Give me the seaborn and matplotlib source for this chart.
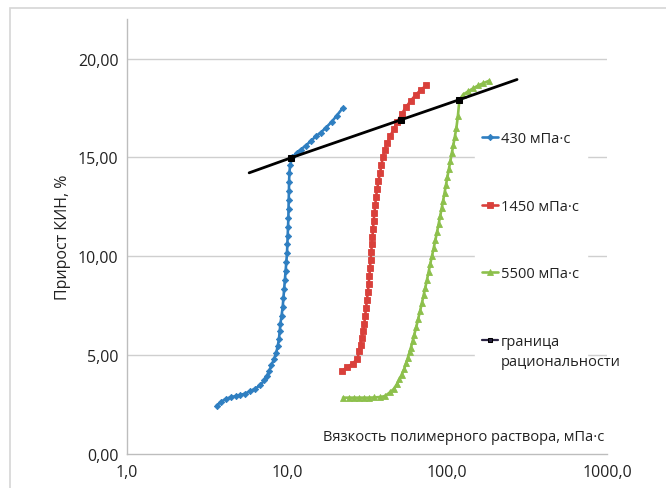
import matplotlib
matplotlib.use("Agg")
import pandas as pd
import seaborn as sns
import matplotlib.pyplot as plt
from matplotlib.patches import Rectangle
from matplotlib.ticker import FixedLocator, FixedFormatter, NullLocator

# series: viscosity (mPa*s), oil recovery gain (%)
visc_430 = [3.63, 3.85, 4.15, 4.45, 4.8, 5.1, 5.45, 5.85, 6.3, 6.8, 7.2, 7.5, 7.75,
            8.0, 8.3, 8.55, 8.75, 8.9, 9.0, 9.1, 9.25, 9.4, 9.5, 9.6, 9.7, 9.8,
            9.9, 10.0, 10.05, 10.1, 10.15, 10.2, 10.22, 10.25, 10.28, 10.3, 10.35,
            10.45, 10.8, 11.5, 12.2, 13.1, 14.1, 15.2, 16.2, 17.5, 19.0, 20.4, 22.3]
gain_430 = [2.45, 2.63, 2.79, 2.87, 2.93, 2.98, 3.05, 3.17, 3.3, 3.47, 3.72, 3.96, 4.2,
            4.5, 4.8, 5.1, 5.45, 5.8, 6.2, 6.6, 7.0, 7.45, 7.9, 8.35, 8.8, 9.25,
            9.7, 10.15, 10.6, 11.05, 11.5, 11.95, 12.4, 12.85, 13.3, 13.75, 14.2,
            14.6, 15.0, 15.24, 15.4, 15.6, 15.83, 16.08, 16.25, 16.5, 16.8, 17.1, 17.5]

visc_1450 = [22.0, 23.7, 25.7, 27.5, 28.3, 28.8, 29.3, 30.0, 30.4, 30.8, 31.2, 31.6,
             32.0, 32.4, 32.7, 33.0, 33.3, 33.6, 33.9, 34.2, 34.5, 34.8, 35.2, 35.6,
             36.0, 36.6, 37.3, 38.1, 38.9, 39.7, 40.9, 42.4, 44.3, 46.6, 49.0, 52.1,
             55.5, 59.4, 63.9, 68.7, 74.3]
gain_1450 = [4.19, 4.39, 4.57, 4.81, 5.19, 5.53, 5.86, 6.2, 6.6, 7.0, 7.4, 7.8,
             8.2, 8.6, 9.0, 9.4, 9.8, 10.2, 10.6, 11.0, 11.4, 11.8, 12.2, 12.6,
             13.0, 13.4, 13.8, 14.2, 14.6, 15.0, 15.4, 15.75, 16.1, 16.45, 16.8, 17.2,
             17.55, 17.87, 18.17, 18.42, 18.64]

visc_5500 = [22.4, 24.4, 26.3, 28.3, 30.4, 32.6, 35.0, 38.2, 41.0, 44.2, 46.6, 48.5,
             50.4, 52.1, 54.0, 55.5, 56.9, 58.3, 59.4, 60.9, 62.4, 64.2, 66.0, 67.8,
             69.6, 71.4, 73.2, 75.0, 76.8, 78.6, 80.6, 82.6, 84.6, 86.6, 88.6, 90.6,
             92.6, 94.6, 96.6, 98.6, 100.6, 102.8, 105.0, 107.2, 109.5, 111.8, 114.5,
             117.0, 119.5, 126.0, 135.5, 146.0, 157.0, 169.0, 184.0]
gain_5500 = [2.85, 2.85, 2.85, 2.85, 2.85, 2.85, 2.86, 2.88, 2.93, 3.13, 3.3, 3.52,
             3.77, 4.02, 4.3, 4.6, 4.86, 5.14, 5.36, 5.69, 6.03, 6.42, 6.82, 7.22,
             7.62, 8.02, 8.42, 8.82, 9.22, 9.62, 10.02, 10.42, 10.82, 11.22, 11.62, 12.02,
             12.42, 12.82, 13.22, 13.62, 14.02, 14.42, 14.82, 15.22, 15.62, 16.02, 16.5,
             17.1, 17.9, 18.17, 18.34, 18.5, 18.64, 18.76, 18.88]

visc_bound = [5.8, 10.6, 51.5, 119.5, 274.0]
gain_bound = [14.22, 14.98, 16.9, 17.92, 18.94]

labels = ["430 мПа·с", "1450 мПа·с", "5500 мПа·с", "граница"]
colors = ["#2f7fc1", "#d9403b", "#8dc04c", "#000000"]
xticks = [1, 10, 100, 1000]
xtick_labels = ["1,0", "10,0", "100,0", "1000,0"]
yticks = [0, 5, 10, 15, 20]
ytick_labels = ["0,00", "5,00", "10,00", "15,00", "20,00"]

sns.set_style("white")
plt.rcParams["font.family"] = ["Open Sans", "DejaVu Sans"]

fig = plt.figure(figsize=(6.66, 4.89), dpi=100)
fig.patches.append(Rectangle((10 / 666, -0.1), 1.2, (489 - 9) / 489 + 0.1,
                             transform=fig.transFigure, fill=False,
                             edgecolor="#d6d6d6", linewidth=1.2))
ax = fig.add_axes([127 / 666, 34 / 489, 480 / 666, 435 / 489])

series = [(visc_430, gain_430, "D", 3.2), (visc_1450, gain_1450, "s", 4.8),
          (visc_5500, gain_5500, "^", 4.6)]
for (xs, ys, mk, ms), lab, col in zip(series, labels, colors):
    df = pd.DataFrame({"visc": xs, "gain": ys})
    sns.lineplot(data=df, x="visc", y="gain", sort=False, estimator=None, ax=ax,
                 color=col, linewidth=1.9, marker=mk, markersize=ms,
                 markeredgecolor=col, markeredgewidth=0.6, label=lab)

dfb = pd.DataFrame({"visc": visc_bound, "gain": gain_bound})
sns.lineplot(data=dfb, x="visc", y="gain", sort=False, estimator=None, ax=ax,
             color=colors[3], linewidth=2, marker="s", markersize=4.6,
             markeredgecolor="#000000", markevery=[1, 2, 3], label=labels[3])

ax.set_xscale("log")
ax.set_xlim(1, 1000)
ax.set_ylim(0, 22)
ax.xaxis.set_major_locator(FixedLocator(xticks))
ax.xaxis.set_major_formatter(FixedFormatter(xtick_labels))
ax.xaxis.set_minor_locator(NullLocator())
ax.yaxis.set_major_locator(FixedLocator(yticks))
ax.yaxis.set_major_formatter(FixedFormatter(ytick_labels))
ax.tick_params(axis="both", direction="out", length=4, width=1, color="#bdbdbd",
               labelsize=11.5, labelcolor="#222222", pad=2)
ax.tick_params(axis="x", pad=3)

for y in yticks[1:]:
    ax.axhline(y, color="#cfcfcf", linewidth=1, zorder=0)
for side in ["top", "right"]:
    ax.spines[side].set_visible(False)
for side in ["left", "bottom"]:
    ax.spines[side].set_color("#bdbdbd")
    ax.spines[side].set_linewidth(1)

ax.set_ylabel("Прирост КИН, %", fontsize=11.5, color="#222222", labelpad=5)
ax.set_xlabel("Вязкость полимерного раствора, мПа·с", fontsize=10.5,
              color="#222222", ha="right")
ax.xaxis.set_label_coords(0.995, 0.058)

leg = ax.legend(loc="upper left", bbox_to_anchor=(475 / 666, (489 - 125) / 489),
                bbox_transform=fig.transFigure, frameon=True, fancybox=False,
                edgecolor="white", facecolor="white", framealpha=1,
                borderpad=0.5, borderaxespad=0, fontsize=10.5,
                labelspacing=3.6, handlelength=1.1, handletextpad=0.2,
                numpoints=1)
for t in leg.get_texts():
    t.set_color("#222222")
bh = leg.legend_handles[3]
bh.set_color("#2a2442")
bh.set_markersize(3.5)
bh.set_linewidth(1.6)

fig.canvas.draw()
bb = leg.get_texts()[-1].get_window_extent()
ax.annotate("рациональности", xy=(bb.x0, (bb.y0 + bb.y1) / 2 - 20),
            xycoords="figure pixels", ha="left", va="center",
            fontsize=10.5, color="#222222", annotation_clip=False)

fig.savefig("out.png", dpi=100)
